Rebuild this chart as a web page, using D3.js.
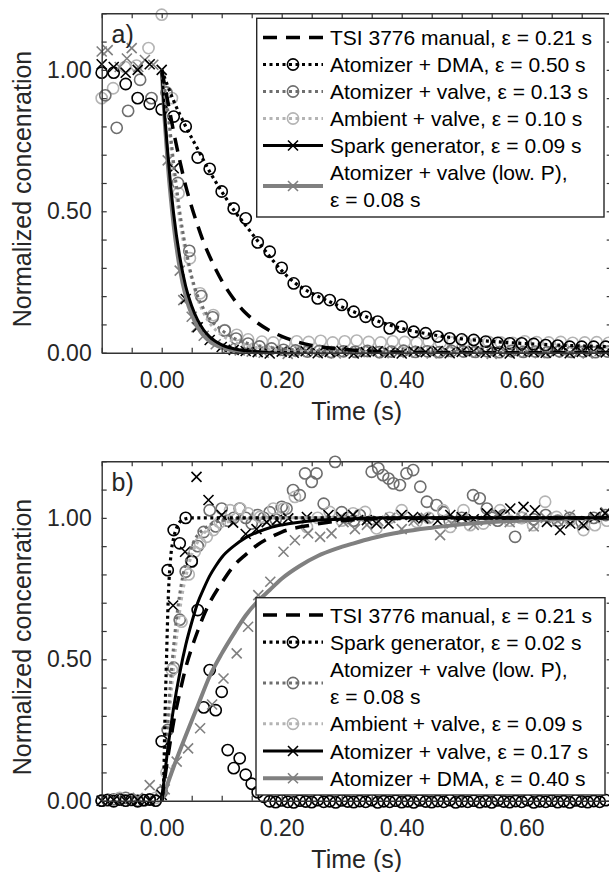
<!DOCTYPE html>
<html>
<head>
<meta charset="utf-8">
<script src="https://cdn.jsdelivr.net/npm/d3@7"></script>
<style>
  body { margin: 0; background: #fff; }
  svg { display: block; font-family: "Liberation Sans", Arial, sans-serif; }
</style>
</head>
<body>
<svg width="609" height="872"></svg>
<script>
const svg = d3.select("svg");

// axes ticks and labels
const xTicks = [-0.1, -0.05, 0, 0.05, 0.1, 0.15, 0.2, 0.25, 0.3, 0.35, 0.4, 0.45, 0.5, 0.55, 0.6, 0.65, 0.7, 0.75];
const xLabels = [0, 0.2, 0.4, 0.6];
const yTicks = [0, 0.1, 0.2, 0.3, 0.4, 0.5, 0.6, 0.7, 0.8, 0.9, 1, 1.1, 1.2];
const yLabels = [0, 0.5, 1];

// ---------- panel a) : decay ----------
const legendA = [
  ["TSI 3776 manual, ε = 0.21 s"],
  ["Atomizer + DMA, ε = 0.50 s"],
  ["Atomizer + valve, ε = 0.13 s"],
  ["Ambient + valve, ε = 0.10 s"],
  ["Spark generator, ε = 0.09 s"],
  ["Atomizer + valve (low. P),", "ε = 0.08 s"]
];

// fitted curves
const tsiFitA = [[0,1],[0.01,0.89],[0.02,0.78],[0.03,0.68],[0.04,0.59],[0.05,0.515],[0.06,0.45],[0.07,0.39],[0.08,0.34],[0.09,0.295],[0.10,0.255],[0.12,0.19],[0.14,0.14],[0.16,0.105],[0.18,0.078],[0.20,0.058],[0.22,0.042],[0.25,0.026],[0.30,0.012],[0.35,0.005],[0.40,0.002],[0.50,0],[0.75,0]];
const dmaFitA = [[0,1],[0.02,0.89],[0.04,0.80],[0.06,0.72],[0.08,0.64],[0.10,0.57],[0.12,0.505],[0.14,0.45],[0.16,0.395],[0.18,0.34],[0.20,0.29],[0.22,0.25],[0.24,0.222],[0.26,0.20],[0.28,0.18],[0.30,0.162],[0.32,0.145],[0.34,0.128],[0.36,0.112],[0.38,0.098],[0.40,0.086],[0.45,0.064],[0.50,0.049],[0.55,0.04],[0.60,0.033],[0.65,0.028],[0.70,0.024],[0.75,0.021]];
const valveFitA = [[0,1],[0.01,0.86],[0.02,0.67],[0.03,0.50],[0.04,0.37],[0.05,0.27],[0.06,0.20],[0.07,0.155],[0.08,0.12],[0.10,0.08],[0.12,0.052],[0.14,0.035],[0.16,0.025],[0.20,0.014],[0.25,0.008],[0.30,0.005],[0.40,0.002],[0.75,0]];
const ambientFitA = [[0,1],[0.01,0.83],[0.02,0.63],[0.03,0.47],[0.04,0.35],[0.05,0.26],[0.06,0.19],[0.07,0.14],[0.08,0.105],[0.10,0.062],[0.12,0.038],[0.14,0.024],[0.16,0.016],[0.20,0.008],[0.30,0.002],[0.75,0]];
const sparkFitA = [[0,1],[0.005,0.84],[0.01,0.71],[0.015,0.59],[0.02,0.49],[0.03,0.34],[0.04,0.235],[0.05,0.165],[0.06,0.115],[0.07,0.08],[0.08,0.056],[0.10,0.028],[0.12,0.014],[0.15,0.005],[0.20,0.001],[0.75,0]];
const lowPFitA = [[0,1],[0.005,0.82],[0.01,0.67],[0.015,0.55],[0.02,0.45],[0.03,0.30],[0.04,0.20],[0.05,0.135],[0.06,0.09],[0.07,0.06],[0.08,0.04],[0.10,0.018],[0.12,0.008],[0.15,0.002],[0.20,0],[0.75,0]];

// measured points
const dmaPtsA = [[-0.10,0.99],[-0.08,0.99],[-0.06,0.95],[-0.04,0.90],[-0.02,0.88],[0.00,0.86],[0.02,0.835],[0.04,0.80],[0.06,0.69],[0.08,0.65],[0.10,0.57],[0.12,0.51],[0.14,0.475],[0.16,0.39],[0.18,0.357],[0.20,0.30],[0.22,0.245],[0.24,0.216],[0.26,0.192],[0.28,0.186],[0.30,0.169],[0.32,0.145],[0.34,0.127],[0.36,0.11],[0.38,0.086],[0.40,0.092],[0.42,0.074],[0.44,0.069],[0.46,0.057],[0.48,0.051],[0.50,0.047],[0.52,0.045],[0.54,0.039],[0.56,0.035],[0.58,0.033],[0.60,0.033],[0.62,0.031],[0.64,0.027],[0.66,0.025],[0.68,0.021],[0.70,0.021],[0.72,0.021],[0.74,0.021]];
const valvePtsA = [[-0.094,0.91],[-0.075,0.795],[-0.056,0.855],[-0.036,0.965],[-0.017,0.90],[0.008,0.92],[0.027,0.60],[0.046,0.36],[0.066,0.20],[0.085,0.125],[0.105,0.078],[0.124,0.05],[0.144,0.032],[0.163,0.022],[0.183,0.015],[0.203,0.01],[0.223,0.008],[0.243,0.004],[0.263,0.006],[0.283,0.002],[0.303,0.005],[0.323,0.003],[0.343,0.006],[0.363,0.002],[0.383,0.004],[0.403,0.007],[0.423,0.003],[0.443,0.005],[0.463,0.002],[0.483,0.006],[0.503,0.004],[0.523,0.003],[0.543,0.005],[0.563,0.002],[0.583,0.006],[0.603,0.003],[0.623,0.004],[0.643,0.002],[0.663,0.005],[0.683,0.003],[0.703,0.004],[0.723,0.002],[0.743,0.004]];
const ambientPtsA = [[-0.10,0.90],[-0.081,0.935],[-0.061,1.01],[-0.042,1.015],[-0.022,1.077],[0.0,1.195],[0.017,0.90],[0.028,0.564],[0.047,0.334],[0.064,0.21],[0.086,0.133],[0.105,0.08],[0.125,0.063],[0.144,0.047],[0.167,0.039],[0.186,0.036],[0.205,0.035],[0.225,0.04],[0.245,0.038],[0.265,0.042],[0.285,0.036],[0.305,0.04],[0.325,0.043],[0.345,0.038],[0.365,0.036],[0.385,0.04],[0.405,0.038],[0.425,0.035],[0.445,0.04],[0.465,0.037],[0.485,0.036],[0.505,0.04],[0.525,0.035],[0.545,0.038],[0.565,0.036],[0.585,0.035],[0.605,0.04],[0.625,0.037],[0.645,0.036],[0.665,0.038],[0.685,0.035],[0.705,0.036],[0.725,0.037],[0.745,0.035]];
const sparkPtsA = [[-0.10,1.02],[-0.08,1.01],[-0.06,0.99],[-0.04,1.0],[-0.02,1.02],[0.0,1.0],[0.02,0.652],[0.04,0.19],[0.06,0.09],[0.08,0.045],[0.10,0.02],[0.12,0.01],[0.14,0.006],[0.16,0.002],[0.18,-0.003],[0.20,0.004],[0.22,0.0],[0.24,0.005],[0.26,-0.002],[0.28,0.003],[0.30,0.006],[0.32,-0.003],[0.34,0.002],[0.36,0.005],[0.38,0.0],[0.40,-0.003],[0.42,0.004],[0.44,0.002],[0.46,0.006],[0.48,-0.002],[0.50,0.003],[0.52,0.005],[0.54,0.0],[0.56,0.004],[0.58,-0.003],[0.60,0.005],[0.62,0.002],[0.64,0.0],[0.66,0.006],[0.68,-0.002],[0.70,0.003],[0.72,0.005],[0.74,0.001]];
const lowPPtsA = [[-0.10,1.065],[-0.09,1.07],[-0.07,1.01],[-0.058,1.04],[-0.05,1.077],[-0.039,1.01],[-0.028,1.035],[-0.014,1.018],[0.01,0.68],[0.03,0.29],[0.036,0.186],[0.05,0.127],[0.058,0.09],[0.07,0.06],[0.09,0.03],[0.11,0.015],[0.13,0.008],[0.15,0.004],[0.17,0.0],[0.19,0.006],[0.21,-0.004],[0.23,0.003],[0.25,0.007],[0.27,0.0],[0.29,-0.003],[0.31,0.005],[0.33,0.002],[0.35,0.006],[0.37,-0.002],[0.39,0.004],[0.41,0.0],[0.43,0.007],[0.45,-0.003],[0.47,0.002],[0.49,0.005],[0.51,0.0],[0.53,0.004],[0.55,-0.004],[0.57,0.006],[0.59,0.001],[0.61,0.003],[0.63,-0.002],[0.65,0.005],[0.67,0.0],[0.69,0.004],[0.71,-0.003],[0.73,0.006]];

// ---------- panel b) : rise ----------
const legendB = [
  ["TSI 3776 manual, ε = 0.21 s"],
  ["Spark generator, ε = 0.02 s"],
  ["Atomizer + valve (low. P),", "ε = 0.08 s"],
  ["Ambient + valve, ε = 0.09 s"],
  ["Atomizer + valve, ε = 0.17 s"],
  ["Atomizer + DMA, ε = 0.40 s"]
];

const tsiFitB = [[0,0],[0.01,0.15],[0.02,0.28],[0.03,0.38],[0.04,0.47],[0.05,0.54],[0.06,0.60],[0.07,0.655],[0.08,0.70],[0.10,0.77],[0.12,0.83],[0.14,0.87],[0.16,0.905],[0.18,0.93],[0.20,0.95],[0.25,0.975],[0.30,0.99],[0.40,0.998],[0.75,1]];
const sparkFitB = [[0,0],[0.003,0.05],[0.005,0.25],[0.008,0.5],[0.011,0.72],[0.015,0.86],[0.02,0.93],[0.025,0.965],[0.03,0.985],[0.04,0.997],[0.05,1],[0.75,1]];
const lowPFitB = [[0,0],[0.005,0.12],[0.01,0.28],[0.015,0.43],[0.02,0.55],[0.025,0.65],[0.03,0.73],[0.04,0.84],[0.05,0.90],[0.06,0.94],[0.07,0.96],[0.08,0.975],[0.10,0.99],[0.15,1],[0.75,1]];
const ambientFitB = [[0,0],[0.005,0.08],[0.01,0.22],[0.015,0.36],[0.02,0.48],[0.025,0.58],[0.03,0.67],[0.035,0.74],[0.04,0.79],[0.05,0.87],[0.06,0.915],[0.07,0.945],[0.08,0.963],[0.10,0.98],[0.12,0.99],[0.15,0.997],[0.20,1],[0.75,1]];
const valveFitB = [[0,0],[0.01,0.18],[0.02,0.33],[0.03,0.45],[0.04,0.55],[0.05,0.63],[0.06,0.70],[0.07,0.75],[0.08,0.795],[0.09,0.83],[0.10,0.86],[0.12,0.90],[0.14,0.93],[0.16,0.95],[0.18,0.965],[0.20,0.975],[0.25,0.99],[0.30,0.995],[0.40,1],[0.75,1]];
const dmaFitB = [[0,0],[0.02,0.12],[0.04,0.23],[0.06,0.335],[0.08,0.44],[0.10,0.52],[0.12,0.59],[0.14,0.655],[0.16,0.705],[0.18,0.745],[0.20,0.785],[0.23,0.83],[0.26,0.865],[0.29,0.89],[0.32,0.91],[0.35,0.928],[0.40,0.95],[0.45,0.965],[0.50,0.977],[0.55,0.985],[0.60,0.991],[0.65,0.995],[0.70,0.998],[0.75,1]];

const sparkPtsB = [[-0.10,0],[-0.09,0.003],[-0.08,-0.002],[-0.07,0.004],[-0.06,0],[-0.05,0.003],[-0.04,-0.002],[-0.03,0.002],[-0.02,0.004],[-0.01,0],[0.00,0.21],[0.01,0.815],[0.02,0.957],[0.03,0.91],[0.04,1.0],[0.05,0.847],[0.06,0.674],[0.07,0.33],[0.08,0.462],[0.09,0.32],[0.10,0.385],[0.11,0.179],[0.12,0.115],[0.13,0.15],[0.14,0.092],[0.15,0.06],[0.16,0.03],[0.17,0.014],[0.18,-0.002],[0.19,-0.005],[0.20,0.001],[0.21,-0.004],[0.22,-0.006],[0.23,0.0],[0.24,-0.003],[0.25,-0.005],[0.26,0.002],[0.27,-0.004],[0.28,-0.002],[0.29,-0.006],[0.30,0.001],[0.31,-0.003],[0.32,-0.005],[0.33,-0.001],[0.34,-0.004],[0.35,0.002],[0.36,-0.006],[0.37,-0.002],[0.38,-0.004],[0.39,0.0],[0.40,-0.005],[0.41,-0.002],[0.42,-0.006],[0.43,0.001],[0.44,-0.003],[0.45,-0.005],[0.46,-0.001],[0.47,-0.004],[0.48,0.002],[0.49,-0.006],[0.50,-0.002],[0.51,-0.004],[0.52,0.0],[0.53,-0.005],[0.54,-0.002],[0.55,-0.006],[0.56,0.001],[0.57,-0.003],[0.58,-0.005],[0.59,-0.001],[0.60,-0.004],[0.61,0.002],[0.62,-0.006],[0.63,-0.002],[0.64,-0.004],[0.65,0.0],[0.66,-0.005],[0.67,-0.002],[0.68,-0.006],[0.69,0.001],[0.70,-0.003],[0.71,-0.005],[0.72,-0.001],[0.73,-0.004],[0.74,0.002]];
const lowPPtsB = [[-0.10,0],[-0.08,0.005],[-0.06,0.01],[-0.04,0.0],[-0.02,0.005],[0.00,0.03],[0.01,0.25],[0.02,0.47],[0.03,0.64],[0.04,0.81],[0.05,0.845],[0.06,0.90],[0.07,0.95],[0.08,1.027],[0.09,0.97],[0.10,1.033],[0.11,0.99],[0.12,1.0],[0.13,1.033],[0.14,1.0],[0.15,0.98],[0.16,1.01],[0.17,1.0],[0.18,1.02],[0.19,0.995],[0.20,1.039],[0.208,1.033],[0.219,1.098],[0.23,1.08],[0.239,1.157],[0.25,1.127],[0.258,1.157],[0.27,1.05],[0.289,1.198],[0.30,1.02],[0.31,1.0],[0.32,0.99],[0.33,1.01],[0.35,1.163],[0.361,1.175],[0.369,1.151],[0.378,1.139],[0.386,1.122],[0.397,1.116],[0.408,1.157],[0.419,1.169],[0.431,1.11],[0.442,1.057],[0.458,1.045],[0.47,1.02],[0.48,0.99],[0.50,1.0],[0.519,1.08],[0.53,1.069],[0.542,1.033],[0.55,1.0],[0.56,0.99],[0.57,1.01],[0.589,0.933],[0.60,1.0],[0.62,0.995],[0.64,1.01],[0.66,0.99],[0.68,1.0],[0.70,0.985],[0.72,1.0],[0.74,1.01]];
const ambientPtsB = [[-0.09,0],[-0.07,0.01],[-0.05,0.005],[-0.03,0.0],[-0.01,0.01],[0.008,0.1],[0.017,0.462],[0.033,0.633],[0.045,0.80],[0.055,0.88],[0.064,0.91],[0.075,0.933],[0.086,0.957],[0.097,0.985],[0.114,1.027],[0.131,1.033],[0.144,1.016],[0.164,1.003],[0.186,1.033],[0.203,1.033],[0.222,1.074],[0.242,0.968],[0.26,1.0],[0.28,1.021],[0.30,0.99],[0.319,1.016],[0.339,1.021],[0.358,0.963],[0.38,1.0],[0.40,1.027],[0.425,0.986],[0.445,1.0],[0.469,1.027],[0.481,0.968],[0.503,1.027],[0.514,0.974],[0.536,0.98],[0.564,1.027],[0.58,0.99],[0.60,1.0],[0.619,0.974],[0.639,1.057],[0.658,1.003],[0.681,0.992],[0.703,0.957],[0.722,0.974],[0.742,0.99]];
const valvePtsB = [[-0.10,0],[-0.08,0.003],[-0.06,0],[-0.04,0.002],[-0.02,0],[0.0,0.02],[0.019,0.69],[0.039,0.88],[0.058,1.145],[0.078,1.063],[0.10,1.01],[0.119,0.983],[0.14,0.943],[0.158,0.96],[0.175,0.985],[0.192,0.992],[0.211,0.998],[0.242,1.003],[0.278,1.01],[0.30,1.003],[0.319,1.01],[0.342,0.992],[0.358,0.98],[0.378,0.98],[0.40,1.01],[0.419,1.003],[0.436,0.998],[0.46,0.99],[0.481,1.01],[0.50,1.003],[0.52,0.995],[0.542,1.016],[0.564,1.01],[0.581,1.033],[0.603,1.039],[0.622,1.027],[0.642,0.986],[0.664,0.957],[0.681,0.98],[0.703,0.974],[0.722,1.003],[0.739,1.016]];
const dmaPtsB = [[-0.10,0],[-0.08,0.005],[-0.06,0],[-0.04,0.01],[-0.02,0.055],[0.005,0.04],[0.025,0.138],[0.044,0.185],[0.064,0.256],[0.084,0.34],[0.103,0.432],[0.125,0.521],[0.144,0.615],[0.161,0.727],[0.181,0.774],[0.203,0.88],[0.222,0.921],[0.244,0.945],[0.264,0.933],[0.283,0.945],[0.303,0.985],[0.322,0.96],[0.342,0.975],[0.361,0.99],[0.381,1.0],[0.40,0.96],[0.42,0.99],[0.44,1.0],[0.464,0.939],[0.483,0.98],[0.50,1.0],[0.52,0.975],[0.54,0.99],[0.56,1.01],[0.58,0.985],[0.60,1.0],[0.62,0.97],[0.64,1.0],[0.66,0.99],[0.68,1.01],[0.70,0.98],[0.72,1.0],[0.74,1.02]];

// colours & line styles (MATLAB-like greys)
const cBlack = "#000000", cDark = "#6e6e6e", cGray = "#808080", cLight = "#b4b4b4";
const styles = {
  dashBlack: { stroke: cBlack, width: 3.5, dash: "14,9" },
  dotBlack: { stroke: cBlack, width: 3.2, dash: "3,3.5" },
  dotDark: { stroke: cDark, width: 3, dash: "3,3.5" },
  dotLight: { stroke: cLight, width: 3, dash: "3,3.5" },
  solidBlack: { stroke: cBlack, width: 3, dash: null },
  solidGray: { stroke: cGray, width: 4, dash: null }
};

const panels = [
  {
    id: "a", tag: "a)", top: 13.3, bottom: 352.7, tagY: 42.5, titleY: 419.5, ylabY: 189,
    legendBox: [256.7, 18.3, 604, 217], legendBase: 45, legendStep: 27,
    legend: legendA,
    legendStyles: [["dashBlack", null, null], ["dotBlack", "circle", cBlack], ["dotDark", "circle", cDark], ["dotLight", "circle", cLight], ["solidBlack", "x", cBlack], ["solidGray", "x", cGray]],
    points: [[ambientPtsA, "circle", cLight], [valvePtsA, "circle", cDark], [dmaPtsA, "circle", cBlack], [lowPPtsA, "x", cGray], [sparkPtsA, "x", cBlack]],
    fits: [[lowPFitA, "solidGray"], [sparkFitA, "solidBlack"], [ambientFitA, "dotLight"], [valveFitA, "dotDark"], [dmaFitA, "dotBlack"], [tsiFitA, "dashBlack"]]
  },
  {
    id: "b", tag: "b)", top: 461.3, bottom: 800.7, tagY: 491, titleY: 868, ylabY: 637,
    legendBox: [256, 597.7, 605, 795], legendBase: 622.5, legendStep: 27.2,
    legend: legendB,
    legendStyles: [["dashBlack", null, null], ["dotBlack", "circle", cBlack], ["dotDark", "circle", cDark], ["dotLight", "circle", cLight], ["solidBlack", "x", cBlack], ["solidGray", "x", cGray]],
    points: [[lowPPtsB, "circle", cDark], [ambientPtsB, "circle", cLight], [sparkPtsB, "circle", cBlack], [dmaPtsB, "x", cGray], [valvePtsB, "x", cBlack]],
    fits: [[dmaFitB, "solidGray"], [ambientFitB, "dotLight"], [lowPFitB, "dotDark"], [tsiFitB, "dashBlack"], [valveFitB, "solidBlack"], [sparkFitB, "dotBlack"]]
  }
];

const plotLeft = 101.7, plotRight = 611.7;
const axisColor = "#333333", textColor = "#262626";
const x = d3.scaleLinear().domain([-0.1, 0.75]).range([plotLeft, plotRight]);

function drawMarker(sel, shape, color) {
  if (shape === "circle") {
    sel.append("circle").attr("r", 5.6).attr("fill", "none")
      .attr("stroke", color).attr("stroke-width", 1.6);
  } else {
    sel.append("path").attr("d", "M-5,-5L5,5M-5,5L5,-5").attr("fill", "none")
      .attr("stroke", color).attr("stroke-width", 1.6);
  }
}

function applyStyle(path, st) {
  path.attr("fill", "none").attr("stroke", st.stroke).attr("stroke-width", st.width);
  if (st.dash) path.attr("stroke-dasharray", st.dash);
}

function drawPanel(p) {
  const y = d3.scaleLinear().domain([0, 1.2]).range([p.bottom, p.top]);
  const g = svg.append("g");

  svg.append("clipPath").attr("id", "clip-" + p.id)
    .append("rect").attr("x", plotLeft).attr("y", p.top)
    .attr("width", plotRight - plotLeft).attr("height", p.bottom - p.top);

  // data points (not clipped, like matlab)
  p.points.forEach(([data, shape, color]) => {
    g.append("g").selectAll("g").data(data).join("g")
      .attr("transform", d => `translate(${x(d[0])},${y(d[1])})`)
      .each(function () { drawMarker(d3.select(this), shape, color); });
  });

  // fitted curves
  const line = d3.line().curve(d3.curveMonotoneX).x(d => x(d[0])).y(d => y(d[1]));
  p.fits.forEach(([data, key]) => {
    const path = g.append("path").datum(data).attr("d", line)
      .attr("clip-path", `url(#clip-${p.id})`);
    applyStyle(path, styles[key]);
  });

  // box axes, ticks pointing in
  const fmt = d3.format(".2f");
  const bottom = g.append("g").attr("transform", `translate(0,${p.bottom})`)
    .call(d3.axisBottom(x).tickValues(xTicks).tickSize(-5).tickSizeOuter(0).tickPadding(19)
      .tickFormat(d => xLabels.includes(d) ? fmt(d) : ""));
  const top = g.append("g").attr("transform", `translate(0,${p.top})`)
    .call(d3.axisTop(x).tickValues(xTicks).tickSize(-5).tickSizeOuter(0).tickFormat(""));
  const left = g.append("g").attr("transform", `translate(${plotLeft},0)`)
    .call(d3.axisLeft(y).tickValues(yTicks).tickSize(-5).tickSizeOuter(0).tickPadding(10)
      .tickFormat(d => yLabels.includes(d) ? fmt(d) : ""));
  const right = g.append("g").attr("transform", `translate(${plotRight},0)`)
    .call(d3.axisRight(y).tickValues(yTicks).tickSize(-5).tickSizeOuter(0).tickFormat(""));

  [bottom, top, left, right].forEach(a => {
    a.select(".domain").attr("stroke", axisColor).attr("stroke-width", 1.4);
    a.selectAll(".tick line").attr("stroke", axisColor).attr("stroke-width", 1.2);
    a.selectAll("text").attr("font-size", 23).attr("fill", textColor)
      .attr("font-family", "Liberation Sans, Arial, sans-serif");
  });

  // panel tag
  g.append("text").attr("x", 111.5).attr("y", p.tagY).attr("font-size", 25)
    .attr("fill", textColor).text(p.tag);

  // axis titles
  g.append("text").attr("x", 356.7).attr("y", p.titleY).attr("text-anchor", "middle")
    .attr("font-size", 25).attr("fill", textColor).text("Time (s)");
  g.append("text").attr("transform", `translate(31,${p.ylabY}) rotate(-90)`)
    .attr("text-anchor", "middle").attr("font-size", 25).attr("fill", textColor)
    .text("Normalized concenration");

  // legend
  const [lx0, ly0, lx1, ly1] = p.legendBox;
  const lg = g.append("g");
  lg.append("rect").attr("x", lx0).attr("y", ly0).attr("width", lx1 - lx0).attr("height", ly1 - ly0)
    .attr("fill", "#fff").attr("stroke", "#262626").attr("stroke-width", 1.4);
  let row = 0;
  p.legend.forEach((lines, i) => {
    const [key, shape, color] = p.legendStyles[i];
    const baseFirst = p.legendBase + row * p.legendStep;
    const baseLast = p.legendBase + (row + lines.length - 1) * p.legendStep;
    const cy = (baseFirst + baseLast) / 2 - 7.5;
    const sample = lg.append("line").attr("x1", 263).attr("x2", 323).attr("y1", cy).attr("y2", cy);
    applyStyle(sample, styles[key]);
    if (shape) drawMarker(lg.append("g").attr("transform", `translate(293,${cy})`), shape, color);
    lines.forEach((t, j) => {
      lg.append("text").attr("x", 330).attr("y", p.legendBase + (row + j) * p.legendStep)
        .attr("font-size", 21).attr("fill", "#000").text(t);
    });
    row += lines.length;
  });
}

panels.forEach(drawPanel);
</script>
</body>
</html>
